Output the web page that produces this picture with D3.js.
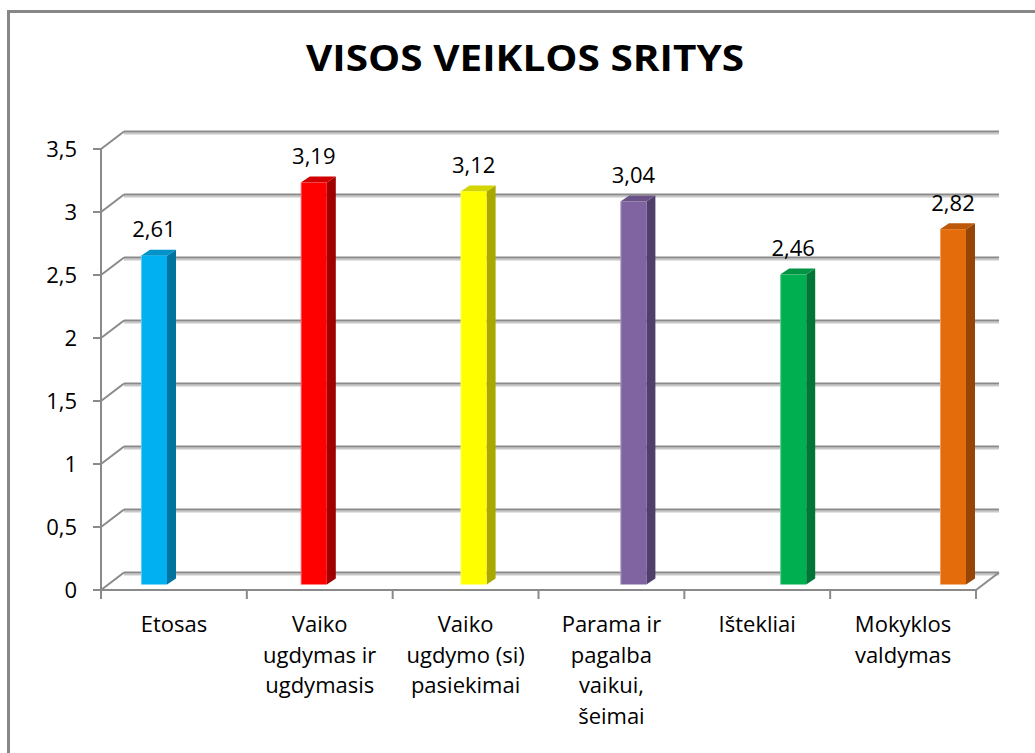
<!DOCTYPE html>
<html>
<head>
<meta charset="utf-8">
<script src="https://cdn.jsdelivr.net/npm/d3@7"></script>
<style>
  html, body { margin: 0; padding: 0; background: #fff; }
  svg { display: block; }
  text { font-family: "Open Sans", "Noto Sans", sans-serif; fill: #000; }
</style>
</head>
<body>
<script>
// ---- data ----
const title = "VISOS VEIKLOS SRITYS";
const categories = [
  ["Etosas"],
  ["Vaiko", "ugdymas ir", "ugdymasis"],
  ["Vaiko", "ugdymo (si)", "pasiekimai"],
  ["Parama ir", "pagalba", "vaikui,", "šeimai"],
  ["Ištekliai"],
  ["Mokyklos", "valdymas"]
];
const values = [2.61, 3.19, 3.12, 3.04, 2.46, 2.82];
const valueLabels = ["2,61", "3,19", "3,12", "3,04", "2,46", "2,82"];
const yTicks = [0, 0.5, 1, 1.5, 2, 2.5, 3, 3.5];
const yTickLabels = ["0", "0,5", "1", "1,5", "2", "2,5", "3", "3,5"];
const frontColors = ["#00B0F0", "#FF0000", "#FFFF00", "#8064A2", "#00B050", "#E46C0A"];
const sideColors  = ["#00749E", "#A00000", "#A8A800", "#513F6B", "#007636", "#944507"];
const topColors   = ["#0092C8", "#D00000", "#D4D400", "#6A5288", "#009444", "#BC5808"];

// ---- layout ----
const W = 1035, H = 753;
const svg = d3.select("body").append("svg").attr("width", W).attr("height", H);
svg.append("rect").attr("width", W).attr("height", H).attr("fill", "#fff");

// outer frame (extends past right/bottom edges)
svg.append("path")
  .attr("d", `M8.5,${H + 5} L8.5,11.5 L${W + 5},11.5`)
  .attr("fill", "none").attr("stroke", "#878787").attr("stroke-width", 3);

const x0 = 101, x1 = 976;          // front floor edge
const depthDx = 23, depthDy = -17.5; // wall depth
const y = d3.scaleLinear().domain([0, 3.5]).range([590, 149]);
const xCat = d3.scaleBand().domain(d3.range(categories.length)).range([x0, x1]);
const xBar = d3.scalePoint().domain(d3.range(values.length)).range([141, 940]); // bar front-left edges
const barW = 26, barDx = 9, barDy = -6, barShift = -5.5;

const gridColor = "#8a8a8a";

// back wall gridlines (with light shadow) + left diagonals
const grid = svg.append("g");
yTicks.forEach(t => {
  const yf = y(t), yb = y(t) + depthDy;
  grid.append("line").attr("x1", x0 + depthDx).attr("x2", x1 + depthDx)
    .attr("y1", yb + 2).attr("y2", yb + 2).attr("stroke", "#c8c8c8").attr("stroke-width", 2);
  grid.append("line").attr("x1", x0 + depthDx).attr("x2", x1 + depthDx)
    .attr("y1", yb).attr("y2", yb).attr("stroke", gridColor).attr("stroke-width", 2);
  grid.append("line").attr("x1", x0).attr("y1", yf).attr("x2", x0 + depthDx).attr("y2", yb)
    .attr("stroke", gridColor).attr("stroke-width", 2);
});
// floor right diagonal
grid.append("line").attr("x1", x1).attr("y1", y(0)).attr("x2", x1 + depthDx).attr("y2", y(0) + depthDy)
  .attr("stroke", gridColor).attr("stroke-width", 2);

// bars
const bars = svg.append("g");
values.forEach((v, i) => {
  const xl = xBar(i), xr = xl + barW;
  const yt = y(v) + barShift, yb = y(0) + barShift;
  bars.append("path")
    .attr("d", `M${xr},${yt} L${xr + barDx},${yt + barDy} L${xr + barDx},${yb + barDy} L${xr},${yb} Z`)
    .attr("fill", sideColors[i]);
  bars.append("path")
    .attr("d", `M${xl},${yt} L${xl + barDx},${yt + barDy} L${xr + barDx},${yt + barDy} L${xr},${yt} Z`)
    .attr("fill", topColors[i]);
  bars.append("rect").attr("x", xl).attr("y", yt).attr("width", barW).attr("height", yb - yt)
    .attr("fill", frontColors[i]);
  bars.append("line").attr("x1", xl + 0.5).attr("x2", xl + 0.5).attr("y1", yt).attr("y2", yb)
    .attr("stroke", "#fff").attr("stroke-opacity", 0.35).attr("stroke-width", 1);
  svg.append("text").attr("x", xl + barW / 2).attr("y", yt - 18.5)
    .attr("text-anchor", "middle").attr("font-size", 22).text(valueLabels[i]);
});

// front axes
const axes = svg.append("g");
axes.append("line").attr("x1", x0).attr("x2", x0).attr("y1", y(3.5)).attr("y2", y(0))
  .attr("stroke", gridColor).attr("stroke-width", 2);
axes.append("line").attr("x1", x0 - 8).attr("x2", x1).attr("y1", y(0)).attr("y2", y(0))
  .attr("stroke", gridColor).attr("stroke-width", 2);
yTicks.forEach((t, i) => {
  axes.append("line").attr("x1", x0 - 8).attr("x2", x0).attr("y1", y(t)).attr("y2", y(t))
    .attr("stroke", gridColor).attr("stroke-width", 2);
  axes.append("text").attr("x", 77).attr("y", y(t) + 8)
    .attr("text-anchor", "end").attr("font-size", 22).text(yTickLabels[i]);
});
d3.range(categories.length + 1).forEach(i => {
  const xt = i < categories.length ? xCat(i) : x1;
  axes.append("line").attr("x1", xt).attr("x2", xt).attr("y1", y(0)).attr("y2", y(0) + 9)
    .attr("stroke", gridColor).attr("stroke-width", 2);
});
categories.forEach((lines, i) => {
  const t = svg.append("text").attr("text-anchor", "middle").attr("font-size", 22)
    .attr("x", xCat(i) + xCat.bandwidth() / 2).attr("y", 632);
  lines.forEach((ln, j) => {
    t.append("tspan").attr("x", xCat(i) + xCat.bandwidth() / 2).attr("dy", j === 0 ? 0 : 30.7).text(ln);
  });
});

// title
svg.append("text").attr("x", 525).attr("y", 71).attr("text-anchor", "middle")
  .attr("font-size", 36).attr("font-weight", "bold")
  .attr("textLength", 438).attr("lengthAdjust", "spacingAndGlyphs").text(title);
</script>
</body>
</html>
